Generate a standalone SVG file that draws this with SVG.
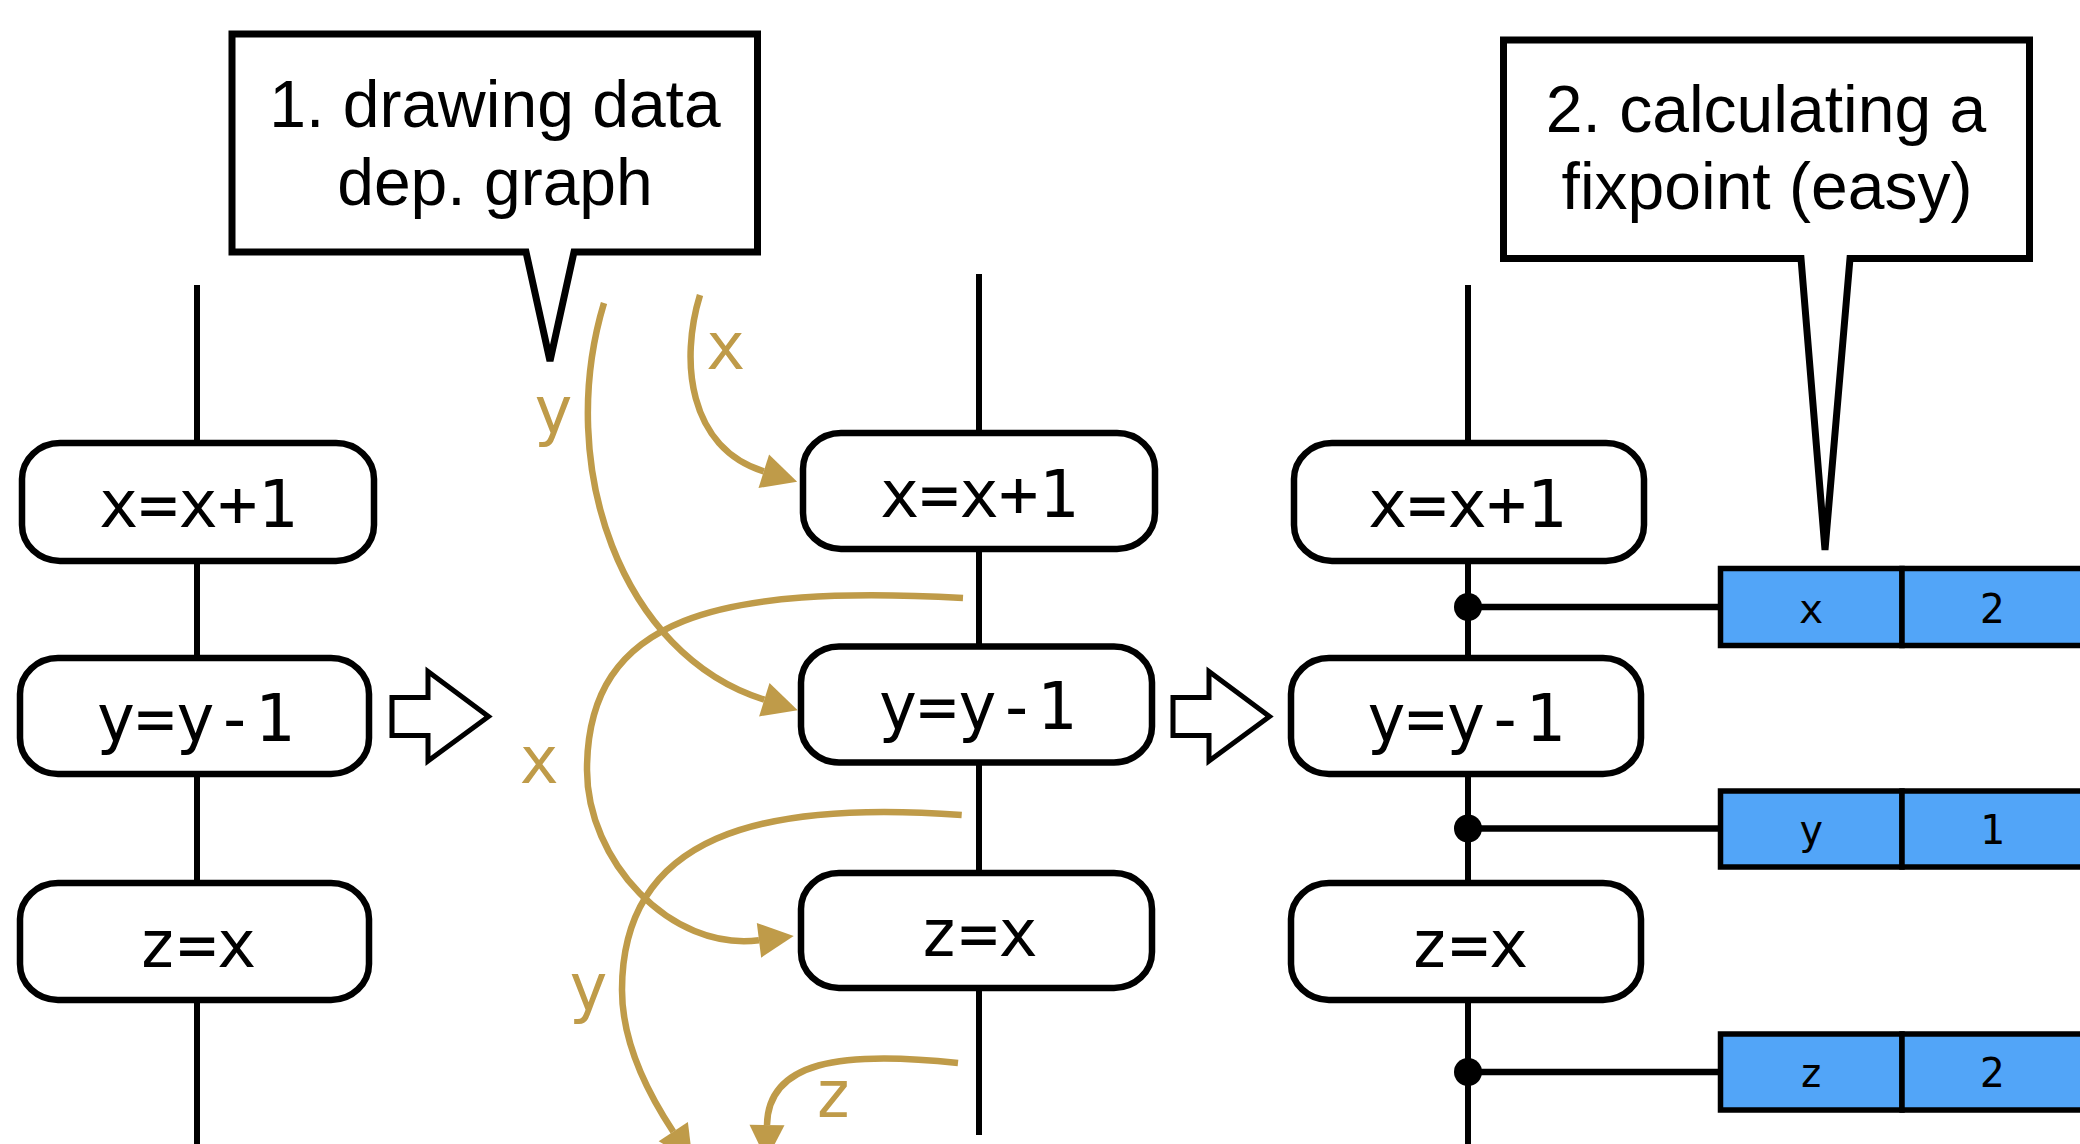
<svg xmlns="http://www.w3.org/2000/svg" width="2080" height="1144" viewBox="0 0 2080 1144">
<style>
.bg{fill:#ffffff}
.col{stroke:#000;stroke-width:6;fill:none}
.node{fill:#fff;stroke:#000;stroke-width:6.5}
.nt{font-family:"DejaVu Sans Mono","Liberation Mono",monospace;font-size:66px;fill:#000;text-anchor:middle}
.callout{fill:#fff;stroke:#000;stroke-width:7;stroke-linejoin:miter}
.ct{font-family:"Liberation Sans",Arial,sans-serif;font-size:66px;fill:#000;text-anchor:middle}
.dep{fill:none;stroke:#bf9b49;stroke-width:6.5}
.lbl{font-family:"DejaVu Sans Mono","Liberation Mono",monospace;font-size:66px;fill:#bf9b49;text-anchor:middle}
.big{fill:#fff;stroke:#000;stroke-width:5;stroke-linejoin:miter}
.cell{fill:#52a5f8;stroke:#000;stroke-width:5.5}
.tt{font-family:"DejaVu Sans Mono","Liberation Mono",monospace;font-size:41px;fill:#000;text-anchor:middle}
.link{stroke:#000;stroke-width:6.5}
</style>
<defs>
<marker id="ah" markerUnits="userSpaceOnUse" markerWidth="40" markerHeight="40" refX="0" refY="17.5" orient="auto" overflow="visible">
<path d="M0,0 L35,17.5 L0,35 Z" fill="#bf9b49"/>
</marker>
</defs>
<rect class="bg" x="0" y="0" width="2080" height="1144"/>

<g id="columns">
<line class="col" x1="197" y1="285" x2="197" y2="1144"/>
<line class="col" x1="979" y1="274" x2="979" y2="1135"/>
<line class="col" x1="1468" y1="285" x2="1468" y2="1144"/>
</g>

<g id="callout1">
<path class="callout" d="M232,34 H757.5 V252 H574 L550,361 L526,252 H232 Z"/>
<text class="ct" x="495" y="127">1. drawing data</text>
<text class="ct" x="495" y="205">dep. graph</text>
</g>

<g id="callout2">
<path class="callout" d="M1503.5,40 H2029.5 V258.5 H1850 L1825,550 L1801,258.5 H1503.5 Z"/>
<text class="ct" x="1766" y="132">2. calculating a</text>
<text class="ct" x="1767" y="208.6">fixpoint (easy)</text>
</g>

<g id="left-x">
<rect class="node" x="22" y="443" width="352" height="118" rx="38" ry="36"/>
<text class="nt" x="198" y="527">x=x+1</text>
</g>
<g id="left-y">
<rect class="node" x="20" y="658" width="349" height="116" rx="38" ry="36"/>
<text class="nt" x="195" y="740.5">y=y-1</text>
</g>
<g id="left-z">
<rect class="node" x="20" y="883" width="349" height="117" rx="38" ry="36"/>
<text class="nt" x="197" y="966.5">z=x</text>
</g>

<g id="mid-x">
<rect class="node" x="803" y="433" width="352" height="116" rx="38" ry="36"/>
<text class="nt" x="979" y="517">x=x+1</text>
</g>
<g id="mid-y">
<rect class="node" x="801" y="646.5" width="351" height="116" rx="38" ry="36"/>
<text class="nt" x="977" y="729">y=y-1</text>
</g>
<g id="mid-z">
<rect class="node" x="801" y="873" width="351" height="115" rx="38" ry="36"/>
<text class="nt" x="978.5" y="956">z=x</text>
</g>

<g id="right-x">
<rect class="node" x="1294" y="443" width="350" height="118" rx="38" ry="36"/>
<text class="nt" x="1467" y="527">x=x+1</text>
</g>
<g id="right-y">
<rect class="node" x="1291" y="658" width="350" height="116" rx="38" ry="36"/>
<text class="nt" x="1465.5" y="740.5">y=y-1</text>
</g>
<g id="right-z">
<rect class="node" x="1291" y="883" width="350" height="117" rx="38" ry="36"/>
<text class="nt" x="1469" y="966.5">z=x</text>
</g>

<g id="step-arrow1">
<path class="big" d="M392,697.5 H428 V671.5 L488.5,716.5 L428,761 V735.5 H392 Z"/>
</g>
<g id="step-arrow2">
<path class="big" d="M1173,697.5 H1209 V671.5 L1269.5,716.5 L1209,761 V735.5 H1173 Z"/>
</g>

<g id="table-x">
<rect class="cell" x="1720.5" y="568.5" width="181.5" height="77"/>
<rect class="cell" x="1902" y="568.5" width="200" height="77"/>
<text class="tt" x="1811" y="622.7">x</text>
<text class="tt" x="1992" y="622.7">2</text>
</g>
<g id="table-y">
<rect class="cell" x="1720.5" y="791" width="181.5" height="76"/>
<rect class="cell" x="1902" y="791" width="200" height="76"/>
<text class="tt" x="1811" y="844">y</text>
<text class="tt" x="1992" y="844">1</text>
</g>
<g id="table-z">
<rect class="cell" x="1720.5" y="1034" width="181.5" height="76"/>
<rect class="cell" x="1902" y="1034" width="200" height="76"/>
<text class="tt" x="1811" y="1087">z</text>
<text class="tt" x="1992" y="1087">2</text>
</g>

<g id="connectors">
<line class="link" x1="1468" y1="607" x2="1718" y2="607"/>
<line class="link" x1="1468" y1="828.5" x2="1718" y2="828.5"/>
<line class="link" x1="1468" y1="1072" x2="1718" y2="1072"/>
<circle cx="1468" cy="607" r="14" fill="#000"/>
<circle cx="1468" cy="828.5" r="14" fill="#000"/>
<circle cx="1468" cy="1072" r="14" fill="#000"/>

<path class="dep" marker-end="url(#ah)" d="M700,295 C680,360 687.6,447.2 763.8,471.3"/>
<path class="dep" marker-end="url(#ah)" d="M604,303 C554.7,466.2 621.2,655 764.3,699.7"/>
<path class="dep" marker-end="url(#ah)" d="M963,598 C720,585 587,615 587,770 C587,860 669.7,951.5 759,940.3"/>
<path class="dep" marker-end="url(#ah)" d="M961.7,815 C760,800 622,835 622,990 C622,1040 645.8,1090.2 673.3,1131.7"/>
<path class="dep" marker-end="url(#ah)" d="M958,1063 C840,1050 768,1062 767,1125"/>

<text class="lbl" x="725.5" y="369">x</text>
<text class="lbl" x="553" y="433">y</text>
<text class="lbl" x="539" y="782.5">x</text>
<text class="lbl" x="588" y="1009.5">y</text>
<text class="lbl" x="833" y="1116.5">z</text>
</g>
</svg>
